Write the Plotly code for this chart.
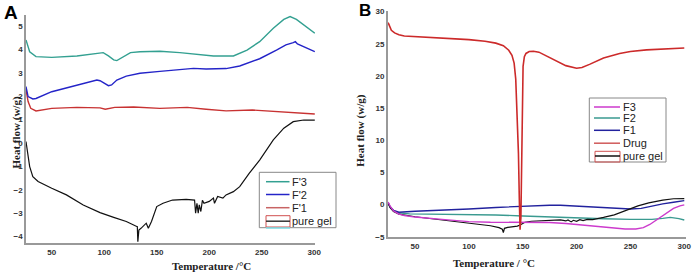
import plotly.graph_objects as go

W, H = 692, 273

# ---------------- Panel A data ----------------
a_f3_x = [25.5, 29, 35, 50, 74, 96, 99, 104, 109, 112, 117, 125, 134, 153, 172, 191, 204, 223, 236, 248, 261, 271, 277, 283, 290, 300.5]
a_f3_y = [4.4, 3.9, 3.69, 3.66, 3.72, 3.83, 3.86, 3.72, 3.55, 3.52, 3.65, 3.86, 3.9, 3.92, 3.86, 3.79, 3.72, 3.72, 3.97, 4.33, 4.9, 5.28, 5.4, 5.28, 5.04, 4.69]

a_f2_x = [25.5, 27.5, 32, 35, 50, 74, 93, 96, 101, 104, 107, 112, 121, 134, 153, 172, 185, 197, 216, 229, 248, 264, 273, 280, 282, 284, 300.5]
a_f2_y = [2.41, 1.98, 1.88, 1.9, 2.19, 2.48, 2.69, 2.66, 2.52, 2.45, 2.48, 2.69, 2.86, 2.98, 3.06, 3.15, 3.19, 3.16, 3.18, 3.29, 3.6, 3.97, 4.19, 4.29, 4.33, 4.23, 3.9]

a_f1_x = [25.5, 27.5, 30, 35, 50, 74, 96, 101, 110, 128, 153, 169, 179, 197, 216, 241, 267, 300.5]
a_f1_y = [2.27, 1.77, 1.48, 1.37, 1.48, 1.52, 1.5, 1.44, 1.52, 1.54, 1.48, 1.52, 1.52, 1.44, 1.37, 1.41, 1.34, 1.24]

a_gel_x = [25.5, 26.8, 29, 32, 37, 50, 64, 80, 96, 109, 121, 130, 131.5, 132, 133, 135, 140, 142, 145, 150, 156, 165, 178, 186, 187, 188.3, 189.5, 190.5, 192, 193.5, 195, 200, 204, 205, 208, 213, 216, 223, 229, 238, 248, 261, 271, 280, 290, 300.5]
a_gel_y = [0.06, -0.44, -1.01, -1.44, -1.65, -1.94, -2.22, -2.65, -2.98, -3.18, -3.36, -3.55, -3.58, -4.22, -3.72, -3.65, -3.43, -3.65, -3.36, -2.72, -2.58, -2.44, -2.41, -2.44, -3.0, -2.58, -3.0, -2.65, -2.93, -2.45, -2.58, -2.5, -2.36, -2.58, -2.29, -2.36, -2.22, -2.08, -1.87, -1.3, -0.73, 0.13, 0.63, 0.91, 0.98, 0.98]

# ---------------- Panel B data ----------------
b_drug_x = [25, 26, 28, 31, 35, 40, 50, 75, 100, 115, 125, 132, 137, 140, 142, 143.5, 145, 146, 146.8, 147.5, 148.3, 149, 149.6, 150.3, 151.5, 153, 156, 160, 165, 170, 180, 190, 200, 205, 212, 225, 240, 250, 265, 280, 300]
b_drug_y = [28.3, 27.8, 27.1, 26.7, 26.4, 26.2, 26.1, 25.95, 25.65, 25.4, 25.1, 24.7, 24.0, 23.2, 22.0, 19.5, 14, 8, 1, -3.9, -2, 8, 17, 21.5, 23.0, 23.5, 23.8, 23.85, 23.7, 23.3, 22.4, 21.6, 21.2, 21.3, 21.8, 22.8, 23.5, 23.8, 24.05, 24.2, 24.35]

b_f1_x = [25, 27, 30, 35, 50, 75, 100, 125, 150, 175, 185, 200, 225, 250, 260, 270, 280, 290, 300]
b_f1_y = [0.3, -0.4, -0.9, -1.2, -1.05, -0.9, -0.7, -0.45, -0.25, -0.1, -0.1, -0.25, -0.5, -0.7, -0.6, -0.2, 0.1, 0.35, 0.6]

b_f2_x = [25, 27, 30, 35, 45, 75, 100, 125, 150, 175, 200, 225, 250, 270, 280, 287, 295, 300]
b_f2_y = [0.2, -0.5, -1.0, -1.3, -1.45, -1.48, -1.52, -1.62, -1.78, -1.95, -2.05, -2.2, -2.3, -2.3, -2.15, -2.0, -2.2, -2.4]

b_f3_x = [25, 27, 30, 35, 40, 50, 75, 100, 120, 150, 160, 175, 190, 200, 215, 230, 245, 255, 262, 268, 275, 282, 290, 296, 300]
b_f3_y = [0.4, -0.3, -1.0, -1.5, -1.7, -1.95, -2.3, -2.65, -2.75, -2.75, -2.7, -2.8, -2.95, -3.1, -3.35, -3.6, -3.8, -3.8, -3.6, -3.1, -2.3, -1.4, -0.6, -0.2, -0.05]

b_gel_x = [25, 27, 30, 35, 50, 75, 100, 120, 128, 131, 132, 133, 136, 140, 145, 148, 152, 158, 166, 175, 185, 190, 192, 195, 197, 200, 203, 206, 210, 215, 220, 225, 235, 247, 257, 267, 280, 290, 300]
b_gel_y = [0.2, -0.5, -1.1, -1.5, -1.9, -2.4, -2.9, -3.3, -3.6, -3.85, -4.35, -3.7, -3.55, -3.45, -3.35, -3.15, -2.75, -2.6, -2.55, -2.5, -2.4, -2.55, -2.4, -2.7, -2.45, -2.6, -2.35, -2.5, -2.3, -2.35, -2.2, -2.0, -1.6, -0.85, -0.2, 0.25, 0.7, 0.9, 0.92]

a_xticks = [50, 100, 150, 200, 250, 300]
a_yticks = [-4, -3, -2, -1, 0, 1, 2, 3, 4, 5]
b_xticks = [50, 100, 150, 200, 250, 300]
b_yticks = [-5, 0, 5, 10, 15, 20, 25, 30]

a_legend = ["F'3", "F'2", "F'1", "pure gel"]
b_legend = ["F3", "F2", "F1", "Drug", "pure gel"]

TEAL = "#33a091"
BLUE = "#2424c8"
RED = "#c83232"
BLACK = "#111111"
MAGENTA = "#cc3acc"
TEAL_B = "#3a9a90"
BLUE_B = "#22229e"
RED_B = "#cc2a2a"

fig = go.Figure()

def add(x, y, color, xa, ya, w=1.4):
    fig.add_trace(go.Scatter(x=x, y=y, mode="lines", line=dict(color=color, width=w),
                             xaxis=xa, yaxis=ya, showlegend=False, hoverinfo="skip"))

add(a_gel_x, a_gel_y, BLACK, "x", "y", 1.2)
add(a_f1_x, a_f1_y, RED, "x", "y")
add(a_f2_x, a_f2_y, BLUE, "x", "y")
add(a_f3_x, a_f3_y, TEAL, "x", "y")

add(b_f2_x, b_f2_y, TEAL_B, "x2", "y2")
add(b_f1_x, b_f1_y, BLUE_B, "x2", "y2")
add(b_gel_x, b_gel_y, BLACK, "x2", "y2", 1.2)
add(b_f3_x, b_f3_y, MAGENTA, "x2", "y2")
add(b_drug_x, b_drug_y, RED_B, "x2", "y2", 1.6)

def px(x):
    return x / W

def py(y):
    return 1 - y / H

tickfont = dict(family="Arial", size=8, color="#333333", weight="bold")
axcommon = dict(showgrid=False, zeroline=False, showline=True, linecolor="#999999", linewidth=1.5,
                ticks="", tickfont=tickfont, automargin=False, mirror=False)

fig.update_layout(
    width=W, height=H,
    margin=dict(l=0, r=0, t=0, b=0),
    paper_bgcolor="white", plot_bgcolor="white",
    xaxis=dict(domain=[px(26), px(315)], range=[25.5, 300.7], tickvals=a_xticks, anchor="y", **axcommon),
    yaxis=dict(domain=[py(243.3), py(15)], range=[-4.29, 5.47], tickvals=a_yticks, anchor="x", **axcommon),
    xaxis2=dict(domain=[px(387.7), px(686)], range=[24.6, 301.6], tickvals=b_xticks, anchor="y2", **axcommon),
    yaxis2=dict(domain=[py(237.2), py(11)], range=[-5.08, 30.1], tickvals=b_yticks, anchor="x2", **axcommon),
    showlegend=False,
)

titlefont = dict(family="Liberation Serif, Times New Roman, serif", size=11, color="#222222", weight="bold")
ann = []
ann.append(dict(text="A", x=px(10.5), y=py(1), xref="paper", yref="paper", showarrow=False,
                xanchor="center", yanchor="top", borderpad=0,
                font=dict(family="Arial", size=19, color="black", weight="bold")))
ann.append(dict(text="B", x=px(365), y=py(0), xref="paper", yref="paper", showarrow=False,
                xanchor="center", yanchor="top", borderpad=0,
                font=dict(family="Arial", size=17, color="black", weight="bold")))
ann.append(dict(text="Heat flow (w/g)", x=px(7), y=py(133), xref="paper", yref="paper", showarrow=False,
                textangle=-90, font=titlefont))
ann.append(dict(text="Heat flow (w/g)", x=px(361), y=py(130.7), xref="paper", yref="paper", showarrow=False,
                textangle=-90, font=titlefont))
ann.append(dict(text="Temperature /°C", x=px(171), y=py(273), xref="paper", yref="paper", showarrow=False,
                yanchor="bottom", borderpad=0, font=titlefont))
ann.append(dict(text="Temperature / °C", x=px(536), y=py(269.5), xref="paper", yref="paper", showarrow=False,
                yanchor="bottom", borderpad=0, font=titlefont))

shapes = []
legfont = dict(family="Arial", size=11, color="#222222")

def legend_box(x0, y0, x1, y1):
    shapes.append(dict(type="rect", xref="paper", yref="paper", x0=px(x0), x1=px(x1), y0=py(y1), y1=py(y0),
                       line=dict(color="#888888", width=1), fillcolor="white", layer="above"))

def legend_line(x0, x1, yy, color, w=1.5):
    shapes.append(dict(type="line", xref="paper", yref="paper", x0=px(x0), x1=px(x1), y0=py(yy), y1=py(yy),
                       line=dict(color=color, width=w), layer="above"))

def legend_text(x, yy, t):
    ann.append(dict(text=t, x=px(x), y=py(yy), xref="paper", yref="paper", showarrow=False,
                    xanchor="left", yanchor="middle", borderpad=0, font=legfont))

# Legend A
legend_box(259.3, 172.3, 336, 227.7)
rows_a = [181.7, 194.5, 207.7, 221.2]
cols_a = [TEAL, BLUE, "#c86464", None]
for name, yy, c in zip(a_legend, rows_a, cols_a):
    if c is not None:
        legend_line(266, 289.5, yy, c)
    legend_text(290.5, yy, name)
shapes.append(dict(type="rect", xref="paper", yref="paper", x0=px(266), x1=px(290), y0=py(227), y1=py(215.7),
                   line=dict(color="#d05050", width=1), layer="above"))
legend_line(266, 290, 221.2, "#333333", 1.5)
legend_line(266, 290, 228, "#7fe0e8", 1.5)

# Legend B
legend_box(589.3, 98, 666, 162)
rows_b = [107, 118, 130.3, 143.2, 156]
cols_b = [MAGENTA, TEAL_B, BLUE_B, "#d05a5a", None]
for name, yy, c in zip(b_legend, rows_b, cols_b):
    if c is not None:
        legend_line(594, 620, yy, c)
    legend_text(621.5, yy, name)
shapes.append(dict(type="rect", xref="paper", yref="paper", x0=px(595), x1=px(620), y0=py(162), y1=py(151.3),
                   line=dict(color="#d05050", width=1), layer="above"))
legend_line(595, 620, 156, "#111111", 1.5)

fig.update_layout(annotations=ann, shapes=shapes)

fig.write_html("out.html", config={"displayModeBar": False},
               post_script="document.body.style.margin='0px';")
